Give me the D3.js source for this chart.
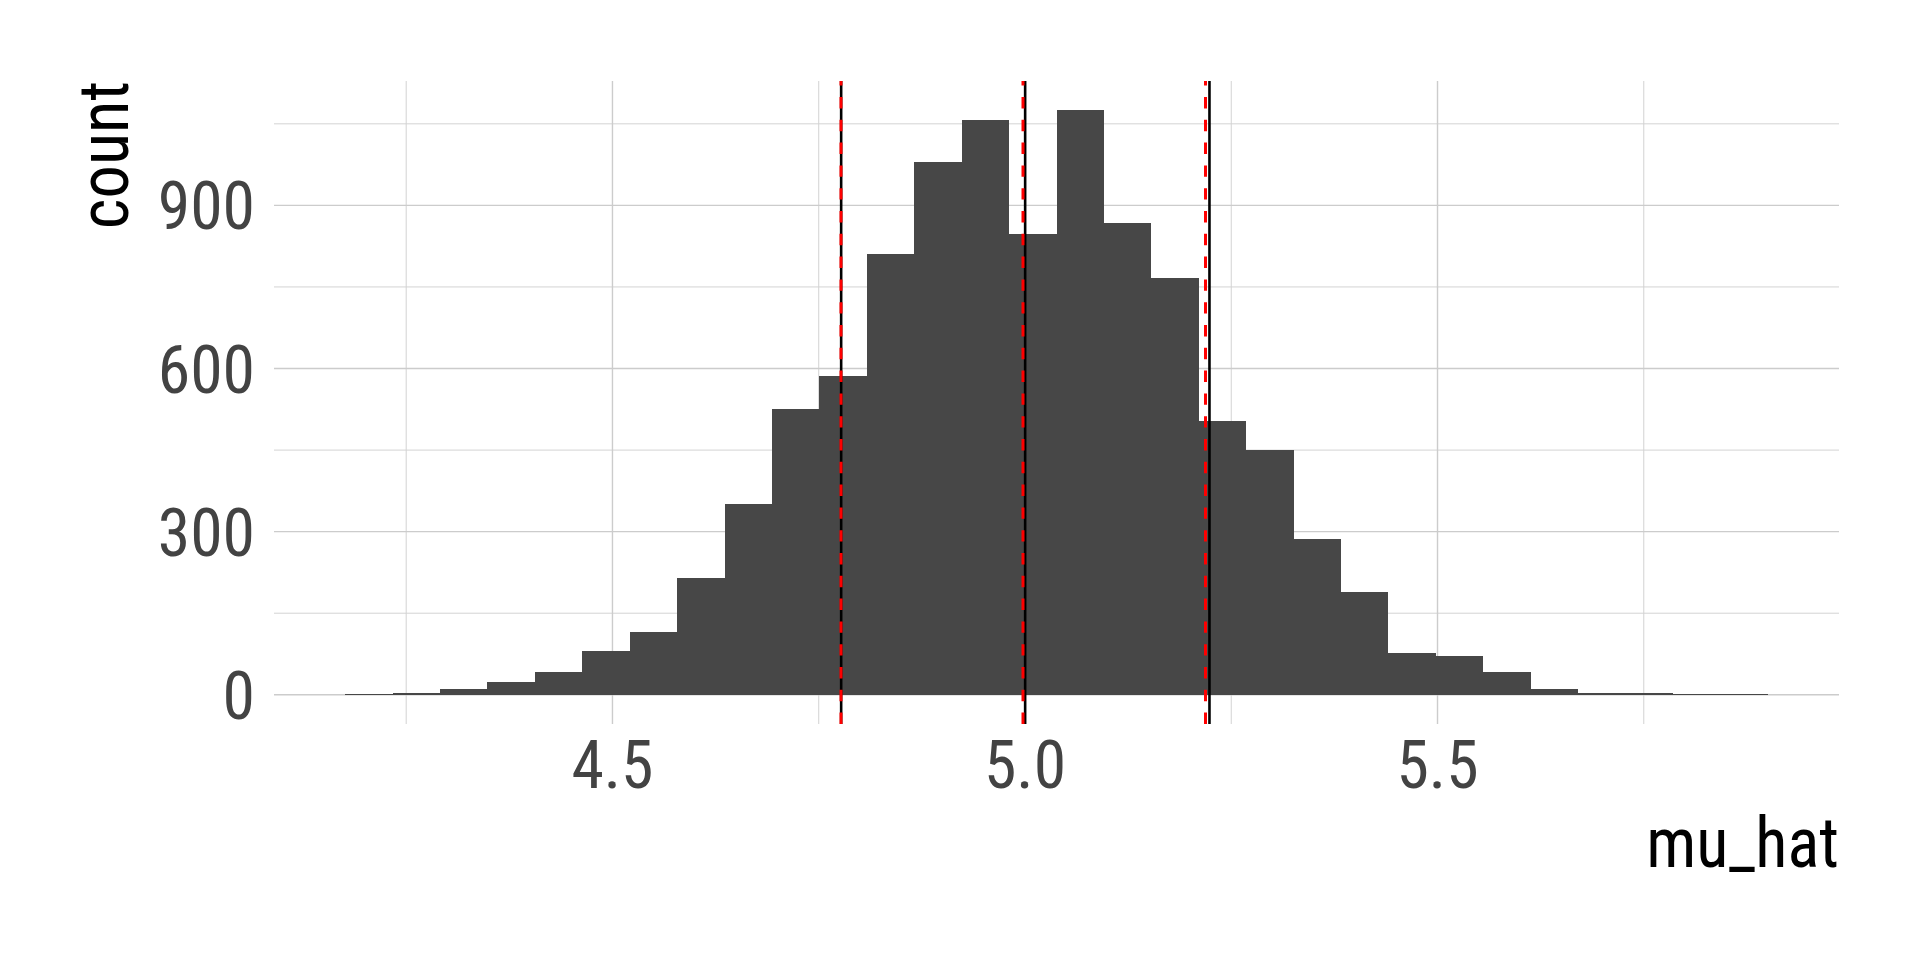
<!DOCTYPE html>
<html>
<head>
<meta charset="utf-8">
<script src="https://cdn.jsdelivr.net/npm/d3@7"></script>
<style>
  html, body { margin: 0; padding: 0; background: #fff; }
  svg { display: block; }
</style>
</head>
<body>
<div id="chart"></div>
<script>
// histogram of mu_hat (30 bins)
const counts = [1, 3, 10, 24, 41, 81, 116, 215, 351, 526, 586, 811, 979, 1057, 848,
                1075, 868, 767, 503, 451, 286, 189, 76, 72, 41, 10, 4, 4, 1, 1];
const binStart = 4.176;
const binWidth = 0.05748;

// reference lines
const sampleLines = [4.7772, 5.0002, 5.2236];   // black solid
const theoryLines = [4.777, 4.9976, 5.2188];    // red dashed

// ticks
const xTicks = [4.5, 5.0, 5.5];
const xMinor = [4.25, 4.75, 5.25, 5.75];
const yTicks = [0, 300, 600, 900];
const yMinor = [150, 450, 750, 1050];

const width = 1920, height = 960;
const margin = { top: 81, right: 81, bottom: 236, left: 274 };
const innerWidth = width - margin.left - margin.right;
const innerHeight = height - margin.top - margin.bottom;

const bins = counts.map((c, i) => ({
    x0: binStart + i * binWidth,
    x1: binStart + (i + 1) * binWidth,
    count: c
}));

// ggplot-like 5% expansion
const xLo = bins[0].x0, xHi = bins[bins.length - 1].x1;
const xPad = (xHi - xLo) * 0.05;
const yMax = d3.max(counts);
const yPad = yMax * 0.05;

const x = d3.scaleLinear().domain([xLo - xPad, xHi + xPad]).range([0, innerWidth]);
const y = d3.scaleLinear().domain([-yPad, yMax + yPad]).range([innerHeight, 0]);

const svg = d3.select("#chart")
    .append("svg")
    .attr("width", width)
    .attr("height", height);

// narrower face if the font has a width axis, else squeeze text
const FONT = "Roboto, 'Liberation Sans', sans-serif";
const STRETCH = "87.5%";
const probe = svg.append("text").attr("font-family", FONT).attr("font-size", 100).text("count 900 mu_hat");
const wNormal = probe.node().getComputedTextLength();
probe.style("font-stretch", STRETCH);
const wCond = probe.node().getComputedTextLength();
probe.remove();
const condensedOK = wCond / wNormal < 0.97;
const squeeze = condensedOK ? 1 : 0.87;

function label(parent, px, py, str, opts) {
    const sx = squeeze * (opts.sx || 1);
    const t = parent.append("text")
        .attr("font-family", FONT)
        .style("font-stretch", condensedOK ? STRETCH : null)
        .attr("font-size", opts.size)
        .attr("fill", opts.color)
        .attr("text-anchor", opts.anchor || "middle")
        .text(str);
    if (opts.rotate || sx !== 1) {
        t.attr("transform", `translate(${px},${py}) rotate(${opts.rotate || 0}) scale(${sx},1)`);
    } else {
        t.attr("x", px).attr("y", py);
    }
    return t;
}

const g = svg.append("g").attr("transform", `translate(${margin.left},${margin.top})`);

// grid
const grid = g.append("g");
grid.selectAll(".ymin").data(yMinor).enter().append("line")
    .attr("x1", 0).attr("x2", innerWidth)
    .attr("y1", d => y(d)).attr("y2", d => y(d))
    .attr("stroke", "#d3d3d3").attr("stroke-width", 1);
grid.selectAll(".xmin").data(xMinor).enter().append("line")
    .attr("y1", 0).attr("y2", innerHeight)
    .attr("x1", d => x(d)).attr("x2", d => x(d))
    .attr("stroke", "#d3d3d3").attr("stroke-width", 1);
grid.selectAll(".ymaj").data(yTicks).enter().append("line")
    .attr("x1", 0).attr("x2", innerWidth)
    .attr("y1", d => y(d)).attr("y2", d => y(d))
    .attr("stroke", "#cccccc").attr("stroke-width", 1.4);
grid.selectAll(".xmaj").data(xTicks).enter().append("line")
    .attr("y1", 0).attr("y2", innerHeight)
    .attr("x1", d => x(d)).attr("x2", d => x(d))
    .attr("stroke", "#cccccc").attr("stroke-width", 1.4);

// bars
g.append("g").selectAll("rect").data(bins).enter().append("rect")
    .attr("x", d => x(d.x0))
    .attr("width", d => x(d.x1) - x(d.x0))
    .attr("y", d => y(d.count))
    .attr("height", d => y(0) - y(d.count))
    .attr("fill", "#474747")
    .attr("shape-rendering", "crispEdges");

// vertical lines, drawn bottom to top like ggplot
g.append("g").selectAll("line").data(sampleLines).enter().append("line")
    .attr("x1", d => x(d)).attr("x2", d => x(d))
    .attr("y1", innerHeight).attr("y2", 0)
    .attr("stroke", "#000").attr("stroke-width", 2.6);

g.append("g").selectAll("line").data(theoryLines).enter().append("line")
    .attr("x1", d => x(d)).attr("x2", d => x(d))
    .attr("y1", innerHeight).attr("y2", 0)
    .attr("stroke", "#ff0000").attr("stroke-width", 3)
    .attr("stroke-dasharray", "11.4 11.4");

// tick labels
xTicks.forEach(t => {
    label(svg, margin.left + x(t), 788, d3.format(".1f")(t), { size: 67, color: "#434343", sx: 0.98 });
});
yTicks.forEach(t => {
    label(svg, 255, margin.top + y(t) + 24, String(t), { size: 67, color: "#434343", anchor: "end", sx: 0.98 });
});

// axis titles
label(svg, 1839, 867, "mu_hat", { size: 70, color: "#000", anchor: "end", sx: 0.95 });
label(svg, 128, 81, "count", { size: 70, color: "#000", anchor: "end", rotate: -90, sx: 0.95 });
</script>
</body>
</html>
